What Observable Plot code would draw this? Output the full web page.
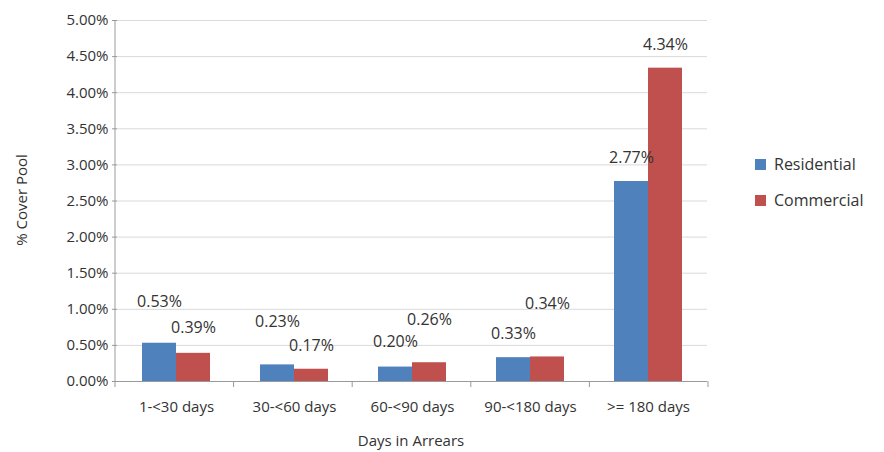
<!DOCTYPE html>
<html lang="en">
<head>
<meta charset="UTF-8">
<script src="https://cdn.jsdelivr.net/npm/d3@7"></script>
<script src="https://cdn.jsdelivr.net/npm/@observablehq/plot@0.6"></script>
<style>
  body { margin: 0; background: #fff; font-family: "Open Sans", sans-serif; }
  #wrap { position: relative; width: 884px; height: 452px; }
  #legend { position: absolute; left: 755px; top: 146px; font-size: 16px; color: #333; }
  #legend div { display: flex; align-items: center; height: 36px; }
  #legend span.sw { display: inline-block; width: 11px; height: 11px; margin-right: 8px; }
</style>
</head>
<body>
<div id="wrap"><div id="plot"></div><div id="legend"></div></div>
<script>
const categories = ["1-<30 days", "30-<60 days", "60-<90 days", "90-<180 days", ">= 180 days"];
const series = ["Residential", "Commercial"];
const residential = [0.53, 0.23, 0.20, 0.33, 2.77];
const commercial = [0.39, 0.17, 0.26, 0.34, 4.34];
const colors = ["#4F81BD", "#C0504D"];
// label lift in px, as in the reference (some labels raised to avoid overlaps)
const resLift = [41, 43, 25, 24, 24];
const comLift = [25, 23, 43, 53, 23];

const rows = [];
categories.forEach((c, i) => {
  rows.push({cat: c, s: "Residential", v: residential[i], lift: resLift[i]});
  rows.push({cat: c, s: "Commercial", v: commercial[i], lift: comLift[i]});
});

const plot = Plot.plot({
  width: 884, height: 452,
  marginLeft: 115, marginRight: 176, marginTop: 20, marginBottom: 71,
  style: {fontFamily: "Open Sans", fontSize: "14px", color: "#333", background: "#fff"},
  fx: {domain: categories, padding: 0, label: null},
  x: {domain: series, padding: 0, paddingOuter: 0.69, axis: null},
  y: {domain: [0, 5], label: null},
  color: {domain: series, range: colors},
  marks: [
    Plot.gridY({ticks: d3.range(0.5, 5.01, 0.5), stroke: "#d9d9d9", strokeOpacity: 1}),
    Plot.axisY({ticks: d3.range(0, 5.01, 0.5), tickFormat: d => d.toFixed(2) + "%", tickSize: 5, fontSize: 15, label: null, stroke: "#999"}),
    Plot.axisFx({anchor: "bottom", fontSize: 15, tickSize: 0, tickPadding: 20, label: null}),
    Plot.barY(rows, {fx: "cat", x: "s", y: "v", fill: "s"}),
    ...rows.map(r => Plot.text([r], {fx: "cat", x: "s", y: "v", text: d => d.v.toFixed(2) + "%",
      dy: -r.lift, fontSize: 16, fill: "#333"})),
    Plot.ruleY([0], {stroke: "#999"})
  ]
});
document.getElementById("plot").append(plot);

// left axis line, category separators and axis titles
const svg = d3.select(plot);
const step = (884 - 115 - 176) / categories.length;
for (let i = 0; i <= categories.length; i++) {
  const x = 115 + i * step;
  svg.append("line").attr("x1", x).attr("x2", x).attr("y1", i === 0 ? 20 : 381).attr("y2", 387).attr("stroke", "#999");
}
svg.append("text").attr("x", 411).attr("y", 446).attr("text-anchor", "middle")
  .attr("font-size", 15).attr("fill", "#333").text("Days in Arrears");
svg.append("text").attr("transform", "translate(27,200) rotate(-90)").attr("text-anchor", "middle")
  .attr("font-size", 15).attr("fill", "#333").text("% Cover Pool");

const lg = document.getElementById("legend");
series.forEach((s, i) => {
  const d = document.createElement("div");
  d.innerHTML = `<span class="sw" style="background:${colors[i]}"></span>${s}`;
  lg.append(d);
});
</script>
</body>
</html>
